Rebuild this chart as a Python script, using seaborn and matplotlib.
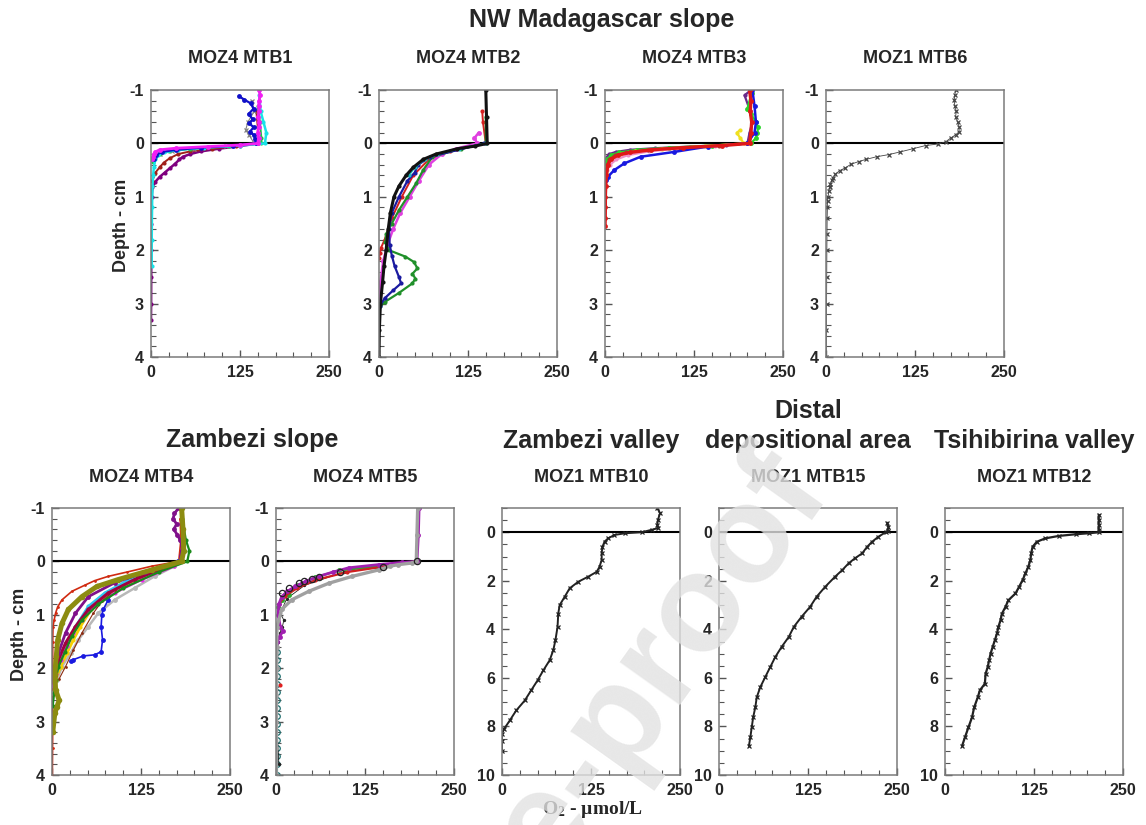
import numpy as np
import pandas as pd
import seaborn as sns
import matplotlib.pyplot as plt
from matplotlib.ticker import MultipleLocator

# O2 microprofiles: depth in cm (negative = water column), O2 in umol/L

# MOZ4 MTB1
mtb1_mag_z = [-1.0, -0.9, -0.8, -0.7, -0.6, -0.5, -0.4, -0.3, -0.2, -0.1, 0.0, 0.03, 0.06, 0.09, 0.12, 0.16, 0.2, 0.25, 0.3]
mtb1_mag_o2 = [152, 153, 152, 151, 152, 150, 152, 151, 150, 151, 150, 125, 80, 35, 12, 6, 4, 3, 2]
mtb1_blue_z = [-0.88, -0.82, -0.75, -0.65, -0.55, -0.45, -0.38, -0.3, -0.22, -0.15, -0.08, 0.0, 0.04, 0.08, 0.12, 0.16, 0.22, 0.3]
mtb1_blue_o2 = [124, 131, 140, 144, 137, 143, 138, 144, 139, 145, 146, 148, 115, 70, 35, 15, 7, 4]
mtb1_cyan_z = [-0.9, -0.6, -0.4, -0.2, 0.0, 0.04, 0.08, 0.12, 0.17, 0.22, 0.3, 0.45, 0.6, 0.8, 1.2, 1.8, 2.3]
mtb1_cyan_o2 = [152, 154, 158, 162, 160, 125, 75, 38, 18, 10, 6, 4, 3, 2, 1.5, 1, 1]
mtb1_green_z = [-0.7, -0.4, -0.1, 0.0, 0.05, 0.1, 0.15, 0.2, 0.27, 0.35]
mtb1_green_o2 = [150, 153, 155, 155, 110, 55, 25, 12, 6, 3]
mtb1_red_z = [-0.6, -0.3, 0.0, 0.05, 0.1, 0.15, 0.2, 0.28, 0.36, 0.45, 0.55, 0.7]
mtb1_red_o2 = [148, 150, 150, 120, 85, 55, 38, 26, 18, 12, 6, 2]
mtb1_grey_z = [-0.8, -0.6, -0.4, -0.25, -0.15, 0.0, 0.05, 0.1, 0.15, 0.2]
mtb1_grey_o2 = [142, 145, 136, 133, 138, 145, 105, 60, 30, 12]
mtb1_purp_z = [0.0, 0.05, 0.1, 0.15, 0.2, 0.25, 0.3, 0.38, 0.47, 0.55, 0.63, 0.72, 0.82, 1.0, 1.5, 2.0, 2.5, 3.0, 3.3]
mtb1_purp_o2 = [150, 125, 95, 70, 55, 45, 40, 34, 26, 19, 12, 6, 2, 1, 0.5, 0.5, 0.3, 0.2, 0]

# MOZ4 MTB2
mtb2_black_z = [-1.0, -0.5, 0.0, 0.05, 0.1, 0.2, 0.3, 0.45, 0.6, 0.8, 1.0, 1.3, 1.6, 2.0, 2.3, 2.6, 3.0, 3.5, 4.0]
mtb2_black_o2 = [150, 151, 152, 135, 110, 80, 62, 48, 38, 28, 21, 16, 13, 10, 7, 5, 2, 0.5, 0]
mtb2_green_z = [-0.5, 0.0, 0.1, 0.25, 0.5, 0.75, 1.0, 1.25, 1.5, 1.7, 1.85, 2.0, 2.12, 2.22, 2.34, 2.44, 2.53, 2.62, 2.8, 2.97, 3.05]
mtb2_green_o2 = [150, 150, 115, 75, 62, 52, 40, 28, 18, 10, 9, 14, 37, 49, 54, 47, 51, 47, 28, 8, 2]
mtb2_blue_z = [0.0, 0.25, 0.4, 0.55, 0.7, 1.0, 1.3, 1.6, 1.9, 2.1, 2.3, 2.5, 2.62, 2.75, 2.9, 3.05]
mtb2_blue_o2 = [148, 72, 55, 50, 40, 28, 18, 14, 15, 18, 22, 28, 31, 20, 8, 1]
mtb2_mag_z = [-0.2, -0.1, 0.0, 0.1, 0.2, 0.4, 0.7, 1.0, 1.3, 1.6, 1.9, 2.2, 2.6, 2.9]
mtb2_mag_o2 = [140, 134, 138, 108, 88, 70, 56, 43, 30, 20, 12, 6, 2, 0]
mtb2_red_z = [-0.6, -0.4, 0.0, 0.15, 0.3, 0.6, 1.0, 1.4, 1.8, 1.95, 2.05, 2.15]
mtb2_red_o2 = [145, 146, 150, 100, 70, 48, 32, 18, 8, 3, 1, 0]
mtb2_cyan_z = [0.0, 0.1, 0.2, 0.3, 0.45, 0.6]
mtb2_cyan_o2 = [150, 112, 82, 64, 50, 42]

# MOZ4 MTB3
mtb3_purp_z = [-1.0, -0.9, -0.6, -0.4, -0.2, 0.0, 0.03, 0.06, 0.09, 0.12, 0.16, 0.2, 0.25, 0.3, 0.4]
mtb3_purp_o2 = [205, 196, 204, 207, 203, 200, 170, 120, 70, 35, 15, 6, 3, 2, 1]
mtb3_green_z = [-0.95, -0.65, -0.55, -0.4, -0.3, -0.2, -0.1, 0.0, 0.04, 0.08, 0.12, 0.17, 0.22, 0.3, 0.4]
mtb3_green_o2 = [206, 200, 205, 212, 215, 214, 212, 205, 150, 90, 45, 20, 8, 3, 1]
mtb3_yel_z = [-0.25, -0.2, -0.1, 0.0, 0.05, 0.1, 0.15, 0.2, 0.28, 0.36, 0.45, 0.55]
mtb3_yel_o2 = [190, 185, 190, 195, 140, 80, 42, 22, 10, 5, 2, 1]
mtb3_pink_z = [0.0, 0.05, 0.1, 0.15, 0.22, 0.3, 0.4, 0.5, 0.6]
mtb3_pink_o2 = [200, 155, 100, 62, 32, 16, 7, 3, 1]
mtb3_brown_z = [0.0, 0.04, 0.08, 0.12, 0.17, 0.22, 0.3, 0.4, 0.5]
mtb3_brown_o2 = [200, 160, 105, 60, 30, 14, 6, 3, 1]
mtb3_blue_z = [-1.0, -0.7, -0.4, -0.2, 0.0, 0.06, 0.16, 0.25, 0.375, 0.5, 0.625, 0.69]
mtb3_blue_o2 = [207, 210, 212, 210, 200, 144, 97, 50, 27, 13, 4, 1]
mtb3_red_z = [-1.0, -0.8, -0.6, -0.4, -0.2, 0.0, 0.04, 0.08, 0.12, 0.17, 0.22, 0.3, 0.4, 0.6, 0.8, 1.0, 1.2, 1.4, 1.55]
mtb3_red_o2 = [203, 205, 204, 206, 205, 203, 165, 110, 65, 35, 18, 8, 4, 2, 1, 0.5, 0.5, 0.3, 0]

# MOZ1 MTB6
mtb6_z = [-1.0, -0.9, -0.81, -0.7, -0.6, -0.5, -0.4, -0.31, -0.22, -0.16, -0.1, -0.03, 0.01, 0.04, 0.1, 0.16,
          0.21, 0.25, 0.3, 0.34, 0.39, 0.46, 0.51, 0.58, 0.64, 0.69, 0.76, 0.82, 0.9, 1.0, 1.07, 1.2, 1.4,
          1.69, 2.0, 2.5, 3.0, 3.5, 4.0]
mtb6_o2 = [182, 181, 180, 181, 183, 182, 185, 187, 187, 182, 175, 168, 158, 140, 122, 104, 88, 71, 56, 46,
           35, 27, 19, 13, 10, 8, 6, 5, 4, 3, 2.3, 2, 1.6, 1.4, 1.2, 1, 0.8, 0.6, 0.5]

# MOZ4 MTB4
mtb4_red_z = [-0.8, -0.4, 0.0, 0.09, 0.2, 0.28, 0.36, 0.44, 0.56, 0.72, 0.85, 0.97, 1.1, 1.22, 1.5, 2.0, 2.5, 3.0, 3.5, 4.0]
mtb4_red_o2 = [180, 181, 178, 140, 105, 79, 60, 47, 28, 14, 8, 5, 3, 1.4, 1, 1, 1, 1, 0.8, 0.5]
mtb4_grey_z = [0.0, 0.09, 0.28, 0.5, 0.72, 0.97, 1.22, 1.47, 1.72, 1.97, 2.22, 2.47]
mtb4_grey_o2 = [178, 172, 144, 116, 88, 65, 51, 37, 26, 14, 7, 2]
mtb4_blue_z = [0.0, 0.22, 0.34, 0.53, 0.72, 0.9, 1.0, 1.22, 1.47, 1.69, 1.75, 1.77, 1.84, 1.87]
mtb4_blue_o2 = [177, 135, 107, 86, 79, 72, 70, 69, 71, 69, 60, 44, 30, 26]
mtb4_mag_z = [0.0, 0.09, 0.34, 0.59, 0.84, 1.09, 1.34, 1.59, 1.84, 2.1, 2.34]
mtb4_mag_o2 = [180, 172, 126, 88, 60, 42, 30, 21, 12, 6, 2]
mtb4_cyan_z = [0.0, 0.2, 0.4, 0.59, 0.84, 1.22, 1.59, 1.97, 2.22]
mtb4_cyan_o2 = [180, 140, 100, 74, 51, 33, 21, 9, 4]
mtb4_yel_z = [0.0, 0.3, 0.6, 0.9, 1.22, 1.47, 1.72, 1.97, 2.22]
mtb4_yel_o2 = [180, 125, 80, 55, 40, 30, 21, 12, 5]
mtb4_brown_z = [0.0, 0.3, 0.53, 0.75, 0.97, 1.34, 1.66, 1.97, 2.2]
mtb4_brown_o2 = [178, 120, 88, 70, 58, 42, 30, 19, 10]
mtb4_maroon_z = [0.0, 0.09, 0.34, 0.59, 0.9, 1.22, 1.53, 1.84, 2.15]
mtb4_maroon_o2 = [180, 163, 116, 79, 51, 33, 19, 9, 4]
mtb4_green_z = [-0.8, -0.4, -0.2, 0.0, 0.2, 0.5, 0.8, 1.1, 1.4, 1.7, 1.97, 2.22, 2.47, 2.7]
mtb4_green_o2 = [183, 188, 193, 190, 150, 100, 65, 42, 28, 18, 9, 5, 3, 1]
mtb4_purp_z = [-1.0, -0.9, -0.8, -0.7, -0.6, -0.5, -0.4, -0.3, -0.2, -0.1, 0.0, 0.2, 0.4, 0.66, 0.97, 1.34, 1.72, 2.0]
mtb4_purp_o2 = [178, 172, 170, 175, 171, 176, 180, 183, 182, 181, 180, 130, 88, 51, 33, 19, 9, 4]
mtb4_olive_z = [-1.0, -0.6, -0.2, 0.0, 0.16, 0.34, 0.47, 0.66, 0.9, 1.16, 1.47, 1.78, 2.1, 2.4, 2.6, 2.72, 2.84, 3.2]
mtb4_olive_o2 = [182, 184, 185, 182, 140, 93, 63, 42, 23, 14, 8, 6, 4, 5, 10, 7, 4, 1]

# MOZ4 MTB5
mtb5_grey_z = [-1.0, -0.5, 0.0, 0.03, 0.06, 0.09, 0.16, 0.28, 0.41, 0.56, 0.72, 0.9, 1.22, 1.6, 2.0, 2.5, 3.0, 3.5, 4.0]
mtb5_grey_o2 = [199, 198, 197, 191, 172, 160, 144, 107, 74, 46, 22, 8, 1.4, 1, 0.8, 0.6, 0.5, 0.4, 0.3]
mtb5_purp_z = [-1.0, -0.5, 0.0, 0.02, 0.06, 0.12, 0.2, 0.28, 0.37, 0.47, 0.56, 0.66, 0.8, 1.0, 1.22, 1.3, 1.41, 1.5]
mtb5_purp_o2 = [201, 200, 198, 177, 144, 102, 80, 60, 42, 27, 16, 8, 4, 3, 6, 10, 5, 2]
mtb5_green_z = [0.0, 0.1, 0.17, 0.3, 0.45, 0.62, 0.72, 0.85]
mtb5_green_o2 = [197, 140, 88, 55, 30, 18, 8, 3]
mtb5_red_z = [0.0, 0.1, 0.2, 0.35, 0.5, 0.65, 0.8]
mtb5_red_o2 = [196, 150, 100, 55, 30, 12, 4]
mtb5_reddot_z = [2.31]
mtb5_reddot_o2 = [6]
mtb5_dots_z = [0.0, 0.2, 0.45, 0.7, 0.97, 1.1, 1.22, 1.35, 1.5, 2.0, 3.0, 3.8]
mtb5_dots_o2 = [198, 95, 40, 15, 6, 11, 9, 5, 3, 2, 1, 4]
mtb5_ring_z = [0.0, 0.1, 0.2, 0.29, 0.33, 0.37, 0.41, 0.5, 0.6]
mtb5_ring_o2 = [198, 150, 90, 60, 51, 39, 32, 18, 8]
mtb5_teal_z = [1.7, 1.85, 2.0, 2.15, 2.3, 2.45, 2.6, 2.75, 2.9, 3.05, 3.2, 3.35, 3.5, 3.65, 3.8, 4.0]
mtb5_teal_o2 = [1, 1, 1, 1, 1, 1, 1, 1, 1, 1, 1, 1, 1, 1, 1, 1]

# MOZ1 MTB10
mtb10_z = [-1.0, -0.79, -0.51, -0.3, -0.17, -0.1, 0.0, 0.04, 0.11, 0.25, 0.39, 0.6, 0.87, 1.14, 1.42, 1.63,
           1.83, 2.04, 2.31, 2.66, 3.0, 3.35, 3.9, 4.45, 4.86, 5.27, 5.69, 6.1, 6.51, 6.93, 7.34, 7.75,
           8.1, 8.3, 8.6, 9.0]
mtb10_o2 = [218, 222, 219, 218, 219, 210, 196, 173, 158, 149, 144, 141, 140, 140, 137, 133, 121, 107, 95,
            88, 81, 79, 78, 75, 72, 67, 58, 50, 41, 32, 20, 11, 3, 0, 0, 0]

# MOZ1 MTB15
mtb15_z = [-0.4, -0.23, -0.07, 0.0, 0.18, 0.39, 0.6, 0.87, 1.07, 1.28, 1.56, 1.83, 2.25, 2.66, 3.07, 3.48,
           3.9, 4.31, 4.72, 5.14, 5.55, 5.96, 6.38, 6.8, 7.21, 7.62, 8.03, 8.45, 8.8]
mtb15_o2 = [236, 238, 237, 234, 224, 215, 208, 201, 191, 182, 173, 163, 149, 137, 128, 116, 105, 98, 88,
            79, 72, 65, 58, 53, 51, 48, 46, 44, 42]

# MOZ1 MTB12
mtb12_z = [-0.72, -0.5, -0.3, -0.1, 0.0, 0.04, 0.08, 0.15, 0.25, 0.39, 0.6, 0.87, 1.14, 1.42, 1.69, 1.97,
           2.25, 2.52, 2.8, 3.07, 3.35, 3.62, 3.9, 4.17, 4.45, 4.72, 5.0, 5.27, 5.55, 5.83, 6.24, 6.51,
           6.8, 7.21, 7.62, 8.03, 8.45, 8.8]
mtb12_o2 = [216, 216, 216, 216, 216, 202, 184, 160, 141, 129, 123, 121, 120, 117, 113, 109, 104, 99, 89,
            85, 80, 78, 75, 73, 70, 67, 64, 62, 60, 57, 56, 49, 46, 41, 38, 33, 28, 24]

top_titles = ["MOZ4 MTB1", "MOZ4 MTB2", "MOZ4 MTB3", "MOZ1 MTB6"]
bottom_titles = ["MOZ4 MTB4", "MOZ4 MTB5", "MOZ1 MTB10", "MOZ1 MTB15", "MOZ1 MTB12"]

# (depth, o2, colour, marker, linewidth, markersize, open marker)
profiles = {
    "MOZ4 MTB1": [
        (mtb1_purp_z, mtb1_purp_o2, "#7f007f", "o", 1.8, 3, False),
        (mtb1_red_z, mtb1_red_o2, "#a0201a", "o", 1.4, 3, False),
        (mtb1_grey_z, mtb1_grey_o2, "#808080", "x", 0.8, 3, False),
        (mtb1_green_z, mtb1_green_o2, "#22c04a", "o", 1.4, 3, False),
        (mtb1_cyan_z, mtb1_cyan_o2, "#19e3e8", "o", 1.8, 3, False),
        (mtb1_blue_z, mtb1_blue_o2, "#1010c8", "o", 1.6, 3.5, False),
        (mtb1_mag_z, mtb1_mag_o2, "#f21ff2", "o", 2.0, 3.5, False),
    ],
    "MOZ4 MTB2": [
        (mtb2_red_z, mtb2_red_o2, "#d42020", "o", 1.4, 3, False),
        (mtb2_mag_z, mtb2_mag_o2, "#e040e0", "o", 1.8, 3.5, False),
        (mtb2_green_z, mtb2_green_o2, "#20902a", "o", 1.6, 3, False),
        (mtb2_blue_z, mtb2_blue_o2, "#1a1aa0", "o", 1.6, 3, False),
        (mtb2_cyan_z, mtb2_cyan_o2, "#20c0c0", "o", 1.4, 3, False),
        (mtb2_black_z, mtb2_black_o2, "#111111", "o", 2.2, 3, False),
    ],
    "MOZ4 MTB3": [
        (mtb3_purp_z, mtb3_purp_o2, "#6a2a8a", "o", 1.6, 3, False),
        (mtb3_green_z, mtb3_green_o2, "#2ad42a", "o", 1.6, 3.5, False),
        (mtb3_yel_z, mtb3_yel_o2, "#f0e020", "o", 1.6, 3, False),
        (mtb3_pink_z, mtb3_pink_o2, "#f090c8", "o", 1.6, 3, False),
        (mtb3_brown_z, mtb3_brown_o2, "#a04030", "o", 1.6, 3, False),
        (mtb3_blue_z, mtb3_blue_o2, "#1818e0", "o", 1.8, 3.5, False),
        (mtb3_red_z, mtb3_red_o2, "#e01818", "o", 2.4, 3.5, False),
    ],
    "MOZ1 MTB6": [
        (mtb6_z, mtb6_o2, "#444444", "x", 0.6, 3, False),
    ],
    "MOZ4 MTB4": [
        (mtb4_red_z, mtb4_red_o2, "#d02a10", "o", 1.2, 2, False),
        (mtb4_grey_z, mtb4_grey_o2, "#b8b8b8", "o", 1.8, 3.5, False),
        (mtb4_blue_z, mtb4_blue_o2, "#1a1ae0", "o", 1.2, 3.5, False),
        (mtb4_yel_z, mtb4_yel_o2, "#f5d000", "o", 2.0, 3, False),
        (mtb4_cyan_z, mtb4_cyan_o2, "#30c8f0", "o", 1.8, 3, False),
        (mtb4_mag_z, mtb4_mag_o2, "#f020f0", "o", 1.8, 3, False),
        (mtb4_brown_z, mtb4_brown_o2, "#8b2a10", "o", 0.8, 2, False),
        (mtb4_maroon_z, mtb4_maroon_o2, "#a00040", "o", 2.2, 3, False),
        (mtb4_purp_z, mtb4_purp_o2, "#80108a", "o", 2.0, 3.5, False),
        (mtb4_green_z, mtb4_green_o2, "#1a8a1a", "o", 1.6, 3, False),
        (mtb4_olive_z, mtb4_olive_o2, "#8c8c10", "o", 3.6, 4, False),
    ],
    "MOZ4 MTB5": [
        (mtb5_teal_z, mtb5_teal_o2, "#1f6e6e", "o", 0.8, 4, True),
        (mtb5_dots_z, mtb5_dots_o2, "#222222", ".", 0.6, 3, False),
        (mtb5_green_z, mtb5_green_o2, "#2aa82a", "o", 1.6, 3.5, False),
        (mtb5_red_z, mtb5_red_o2, "#d02020", "o", 1.6, 3, False),
        (mtb5_reddot_z, mtb5_reddot_o2, "#e02020", "o", 0.0, 3, False),
        (mtb5_purp_z, mtb5_purp_o2, "#a020b0", "o", 2.0, 3.5, False),
        (mtb5_grey_z, mtb5_grey_o2, "#a0a0a0", "o", 2.4, 3.5, False),
        (mtb5_ring_z, mtb5_ring_o2, "#222222", "o", 0.0, 4.5, True),
    ],
    "MOZ1 MTB10": [(mtb10_z, mtb10_o2, "#222222", "x", 1.4, 3, False)],
    "MOZ1 MTB15": [(mtb15_z, mtb15_o2, "#222222", "x", 1.4, 3, False)],
    "MOZ1 MTB12": [(mtb12_z, mtb12_o2, "#222222", "x", 1.6, 3, False)],
}

sns.set_style("ticks")
plt.rcParams["font.family"] = ["Liberation Sans", "DejaVu Sans"]
plt.rcParams["font.weight"] = "bold"
plt.rcParams["axes.unicode_minus"] = False
plt.rcParams["mathtext.fontset"] = "custom"
plt.rcParams["mathtext.rm"] = "Liberation Serif:bold"
plt.rcParams["mathtext.bf"] = "Liberation Serif:bold"

W, H = 1146, 825
fig = plt.figure(figsize=(W / 100, H / 100), dpi=100)
fig.patch.set_facecolor("white")

aw, ah = 178 / W, 267 / H
top_left = [151, 379, 605, 826]
bot_left = [52, 276, 502, 719, 945]


def make_axes(px_left, px_bottom):
    return fig.add_axes([px_left / W, (H - px_bottom) / H, aw, ah])


def style_axes(ax, deep):
    ax.set_xlim(0, 250)
    ax.set_xticks([0, 125, 250])
    ax.xaxis.set_minor_locator(MultipleLocator(25))
    if deep:
        ax.set_ylim(10, -1)
        ax.set_yticks([0, 2, 4, 6, 8, 10])
        ax.yaxis.set_minor_locator(MultipleLocator(0.5))
    else:
        ax.set_ylim(4, -1)
        ax.set_yticks([-1, 0, 1, 2, 3, 4])
        ax.yaxis.set_minor_locator(MultipleLocator(0.2))
    ax.tick_params(which="both", direction="in", top=False, right=False, color="#555555")
    ax.tick_params(which="major", length=5, width=1.0, labelsize=11.5, pad=5)
    ax.tick_params(which="minor", length=3.5, width=0.8)
    ax.tick_params(axis="x", which="major", pad=6)
    for s in ax.spines.values():
        s.set_color("#7a7a7a")
        s.set_linewidth(1.1)
    ax.set_xlabel("")
    ax.set_ylabel("")
    ax.axhline(0, color="black", lw=1.5, zorder=1.5)


def draw_profiles(ax, title):
    for z, o2, col, mk, lw, ms, hollow in profiles[title]:
        df = pd.DataFrame({"o2": o2, "depth": z})
        kw = dict(marker=mk, markersize=ms, markeredgecolor=col,
                  markerfacecolor="none" if hollow else col,
                  markeredgewidth=0.9 if mk in ("x", ".") or hollow else 0)
        sns.lineplot(data=df, x="o2", y="depth", sort=False, estimator=None,
                     color=col, lw=lw, ax=ax, legend=False, zorder=2, **kw)


for left, title in zip(top_left, top_titles):
    ax = make_axes(left, 357)
    draw_profiles(ax, title)
    style_axes(ax, deep=False)
    ax.text(0.5, 1.101, title, transform=ax.transAxes, ha="center", va="baseline",
            fontsize=13, fontweight="bold")

for i, (left, title) in enumerate(zip(bot_left, bottom_titles)):
    ax = make_axes(left, 775)
    draw_profiles(ax, title)
    style_axes(ax, deep=i >= 2)
    ax.text(0.5, 1.097, title, transform=ax.transAxes, ha="center", va="baseline",
            fontsize=13, fontweight="bold")

# group headings
fig.text(602 / W, 1 - 27 / H, "NW Madagascar slope", ha="center", va="baseline", fontsize=18, fontweight="bold")
fig.text(252 / W, 1 - 447 / H, "Zambezi slope", ha="center", va="baseline", fontsize=18, fontweight="bold")
fig.text(591 / W, 1 - 448 / H, "Zambezi valley", ha="center", va="baseline", fontsize=18, fontweight="bold")
fig.text(808 / W, 1 - 418 / H, "Distal", ha="center", va="baseline", fontsize=18, fontweight="bold")
fig.text(808 / W, 1 - 448 / H, "depositional area", ha="center", va="baseline", fontsize=18, fontweight="bold")
fig.text(1034 / W, 1 - 448 / H, "Tsihibirina valley", ha="center", va="baseline", fontsize=18, fontweight="bold")

# axis labels
fig.text(121 / W, 1 - 225 / H, "Depth - cm", rotation=90, ha="center", va="center", fontsize=13, fontweight="bold")
fig.text(20 / W, 1 - 634 / H, "Depth - cm", rotation=90, ha="center", va="center", fontsize=13, fontweight="bold")
fig.text(593 / W, 1 - 810 / H, r"$\mathbf{O_2}$ - µmol/L", ha="center", va="center", fontsize=14,
         family="Liberation Serif", fontweight="bold")

# journal watermark
fig.text(832 / W, 1 - 493 / H, "Journal Pre-proof", rotation=54.5, rotation_mode="anchor",
         ha="right", va="baseline", fontsize=100, fontweight="bold", color="#e2e2e2", alpha=0.8, zorder=10)

fig.savefig("out.png", dpi=100)
